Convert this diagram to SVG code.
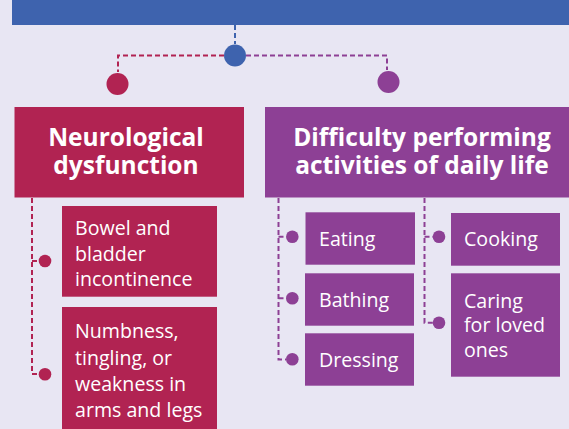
<svg xmlns="http://www.w3.org/2000/svg" width="569" height="429" viewBox="0 0 569 429">
<style>
.bg{fill:#E8E6F3}
.red{fill:#B12352}
.pur{fill:#8D4095}
.blue{fill:#3E63AE}
.h{font-family:"Open Sans","Liberation Sans",sans-serif;font-weight:700;font-size:24.5px;fill:#fff;text-anchor:middle}
.t{font-family:"Open Sans","Liberation Sans",sans-serif;font-weight:400;font-size:19.6px;fill:#fff}
.dr{fill:none;stroke:#B12352;stroke-width:2;stroke-dasharray:5 3}
.dp{fill:none;stroke:#8D4095;stroke-width:2;stroke-dasharray:5 3}
.db{fill:none;stroke:#3E63AE;stroke-width:2;stroke-dasharray:5 3}
</style>
<rect class="bg" x="0" y="0" width="569" height="429"/>
<g id="top-bar"><rect class="blue" x="12" y="0" width="557" height="25"/></g>
<g id="connectors">
<path class="db" d="M235 25V44"/>
<path class="dr" d="M224 55.5H118V72"/>
<path class="dp" d="M246 55.5H387V70"/>
<path class="dr" d="M32 198V374H39M32 261H39"/>
<path class="dp" d="M278.5 198V359.5H286M278.5 236.7H286M278.5 298.3H286"/>
<path class="dp" d="M424.5 198V322.7H433M424.5 236.7H433"/>
<circle class="blue" cx="235" cy="55.5" r="11"/>
<circle class="red" cx="117.5" cy="84" r="11"/>
<circle class="pur" cx="388.5" cy="82" r="11"/>
<circle class="red" cx="45" cy="261" r="6.3"/>
<circle class="red" cx="45" cy="374.3" r="6.3"/>
<circle class="pur" cx="292.3" cy="236.7" r="6.3"/>
<circle class="pur" cx="292.3" cy="298.3" r="6.3"/>
<circle class="pur" cx="292.3" cy="359.3" r="6.3"/>
<circle class="pur" cx="439" cy="236.7" r="6.3"/>
<circle class="pur" cx="439" cy="322.7" r="6.3"/>
</g>
<g id="neuro">
<rect class="red" x="14.5" y="107" width="229.5" height="90.5"/>
<text class="h" x="126" y="145.5">Neurological</text>
<text class="h" x="126" y="174">dysfunction</text>
</g>
<g id="adl">
<rect class="pur" x="265" y="107" width="304" height="90.5"/>
<text class="h" x="422" y="145.5">Difficulty performing</text>
<text class="h" x="422" y="174">activities of daily life</text>
</g>
<g id="bowel">
<rect class="red" x="62" y="206" width="155" height="90.7"/>
<text class="t" x="75" y="235">Bowel and</text>
<text class="t" x="75" y="260.5">bladder</text>
<text class="t" x="75" y="285.7">incontinence</text>
</g>
<g id="numb">
<rect class="red" x="62" y="307" width="155" height="130"/>
<text class="t" x="75" y="338.3">Numbness,</text>
<text class="t" x="75" y="364.5">tingling, or</text>
<text class="t" x="75" y="390.5">weakness in</text>
<text class="t" x="75" y="416.7">arms and legs</text>
</g>
<g id="eating">
<rect class="pur" x="305.5" y="212.3" width="109.5" height="52.4"/>
<text class="t" x="319" y="246">Eating</text>
</g>
<g id="bathing">
<rect class="pur" x="305" y="273.3" width="109" height="52.4"/>
<text class="t" x="319" y="306.7">Bathing</text>
</g>
<g id="dressing">
<rect class="pur" x="305" y="333.3" width="109" height="52.4"/>
<text class="t" x="319" y="366.7">Dressing</text>
</g>
<g id="cooking">
<rect class="pur" x="451" y="213" width="109" height="52.7"/>
<text class="t" x="464" y="246">Cooking</text>
</g>
<g id="caring">
<rect class="pur" x="451" y="273.3" width="109" height="103.4"/>
<text class="t" x="464" y="307.7">Caring</text>
<text class="t" x="464" y="332">for loved</text>
<text class="t" x="464" y="356.7">ones</text>
</g>
</svg>
